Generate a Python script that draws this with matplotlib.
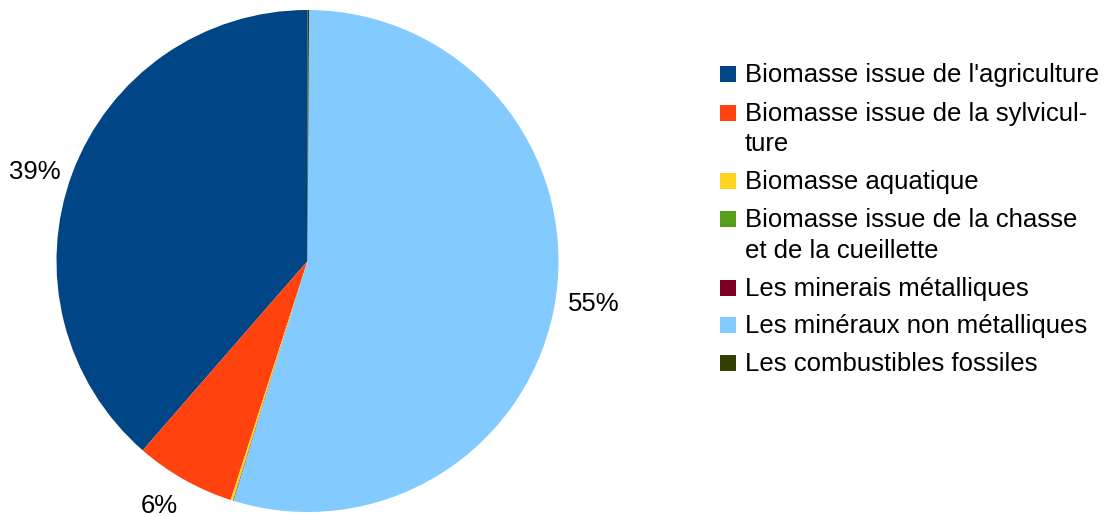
import matplotlib
matplotlib.use("Agg")
import matplotlib.pyplot as plt
from matplotlib.patches import Rectangle
from matplotlib.transforms import offset_copy
import numpy as np

categories = [
    "Biomasse issue de l'agriculture",
    "Biomasse issue de la sylvicul-\nture",
    "Biomasse aquatique",
    "Biomasse issue de la chasse\net de la cueillette",
    "Les minerais métalliques",
    "Les minéraux non métalliques",
    "Les combustibles fossiles",
]
values = [38.6, 6.45, 0.15, 0.02, 0.03, 54.65, 0.1]
colors = ["#004586", "#ff420e", "#ffd320", "#579d1c", "#7e0021", "#83caff", "#314004"]

plt.rcParams['font.family'] = ['Liberation Sans', 'DejaVu Sans']
FS = 18.5

W, H = 1106, 517
fig = plt.figure(figsize=(W / 100, H / 100), dpi=100)

cx, cy, r = 307.5, 261, 251
ax = fig.add_axes([(cx - r) / W, (H - cy - r) / H, 2 * r / W, 2 * r / H])

wedges, _ = ax.pie(values, colors=colors, startangle=90, counterclock=True,
                   radius=1, wedgeprops=dict(linewidth=0))
total = sum(values)
lab_tr = offset_copy(ax.transData, fig=fig, x=0, y=-3, units='dots')
for w, v in zip(wedges, values):
    pct = 100 * v / total
    if pct < 1:
        continue
    th = np.deg2rad((w.theta1 + w.theta2) / 2)
    c, s = np.cos(th), np.sin(th)
    d = 1.05
    ha = 'right' if c < 0 else 'left'
    if abs(s) < 0.7:
        va = 'center'
    else:
        va = 'top' if s < 0 else 'bottom'
    ax.text(d * c, d * s, "%.0f%%" % pct, ha=ha, va=va, fontsize=FS,
            color='black', transform=lab_tr)
ax.set_xlim(-1, 1)
ax.set_ylim(-1, 1)
ax.set_aspect('equal')
ax.axis('off')

baselines = [82.3, 120.7, 189.3, 227.3, 296.0, 333.3, 370.7]
for name, col, b in zip(categories, colors, baselines):
    sq = 16
    fig.patches.append(Rectangle((720 / W, (H - b) / H), sq / W, sq / H,
                                 transform=fig.transFigure, facecolor=col,
                                 edgecolor='none'))
    lines = name.split("\n")
    for i, ln in enumerate(lines):
        fig.text(745 / W, (H - (b + i * 30.7)) / H, ln, fontsize=FS,
                 va='baseline', ha='left', color='black')

fig.savefig("out.png", dpi=100)
